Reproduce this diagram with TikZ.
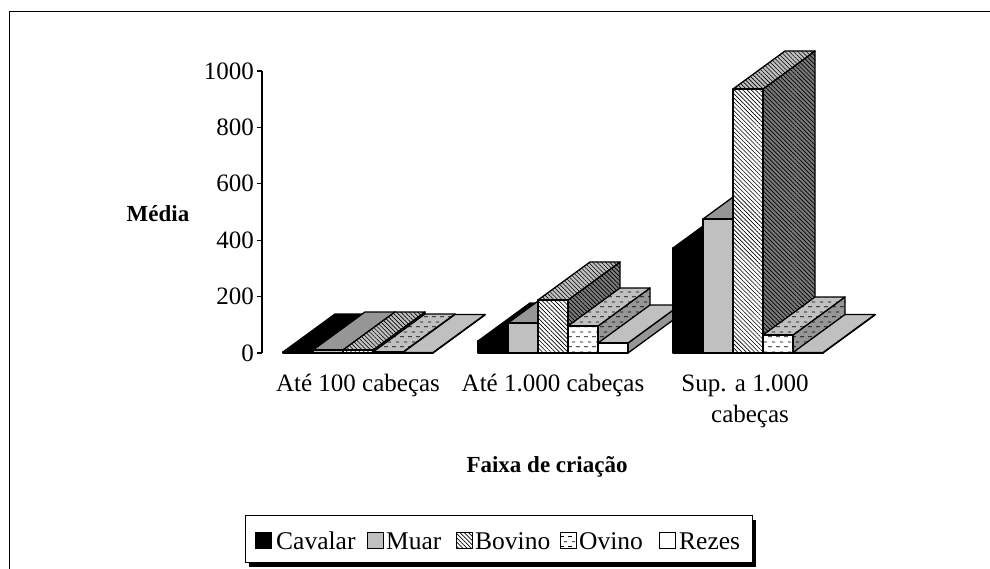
\documentclass[tikz,border=0pt]{standalone}
\usepackage{fontspec}
\setmainfont{Liberation Serif}
\usetikzlibrary{patterns,patterns.meta}
\tikzdeclarepattern{
  name=ovdash,
  type=uncolored,
  bounding box={(0pt,0pt) and (8pt,10pt)},
  tile size={(8pt,10pt)},
  code={
    \draw[line width=0.8pt] (0.2pt,2.5pt) -- (4.2pt,2.5pt);
    \draw[line width=0.8pt] (4.2pt,7.5pt) -- (7.8pt,7.5pt);
  }
}
\definecolor{lgray}{HTML}{C0C0C0}
\definecolor{mgray}{HTML}{969696}
\definecolor{dgray}{HTML}{7A7A7A}
\tikzset{
  face/.style={draw=black, line width=1.3pt, line join=round},
  cavF/.style={face, fill=black},
  muaF/.style={face, fill=lgray},
  muaT/.style={face, fill=mgray},
  muaS/.style={face, fill=dgray},
  bovF/.style={face, preaction={fill=white}, pattern={Lines[angle=-45,distance=3pt,line width=0.6pt]}, pattern color=black},
  bovT/.style={face, preaction={fill=lgray}, pattern={Lines[angle=-45,distance=3pt,line width=0.6pt]}, pattern color=black},
  bovS/.style={face, preaction={fill=dgray}, pattern={Lines[angle=-45,distance=3pt,line width=0.7pt]}, pattern color=black},
  ovF/.style={face, preaction={fill=white}, pattern=ovdash, pattern color=black},
  ovT/.style={face, preaction={fill=lgray}, pattern=ovdash, pattern color=black},
  ovS/.style={face, preaction={fill=mgray}, pattern=ovdash, pattern color=black},
  rezF/.style={face, fill=white},
  rezT/.style={face, fill=lgray},
  rezS/.style={face, fill=mgray},
  lab/.style={font=\fontsize{25}{30}\selectfont, inner sep=0pt},
  leglab/.style={font=\fontsize{25.5}{30}\selectfont, inner sep=0pt, anchor=base west},
  blab/.style={font=\fontsize{23}{28}\selectfont\bfseries, inner sep=0pt},
  legsq/.style={draw=black, line width=1pt, minimum size=16pt, inner sep=0pt, anchor=west},
}
% #1 x left, #2 height (px), #3 front, #4 top, #5 side
\newcommand\drawbar[5]{%
  \pgfmathsetmacro\bxa{#1}%
  \pgfmathsetmacro\bxb{#1+30}%
  \pgfmathsetmacro\bxc{#1+30+52}%
  \pgfmathsetmacro\bxd{#1+52}%
  \pgfmathsetmacro\byt{353-#2}%
  \pgfmathsetmacro\byb{353-#2-38}%
  \path[#5] (\bxb,353) -- (\bxc,315) -- (\bxc,\byb) -- (\bxb,\byt) -- cycle;
  \path[#4] (\bxa,\byt) -- (\bxb,\byt) -- (\bxc,\byb) -- (\bxd,\byb) -- cycle;
  \path[#3] (\bxa,353) rectangle (\bxb,\byt);
}
\begin{document}
\begin{tikzpicture}[x=1pt,y=-1pt]
\useasboundingbox (0,0) rectangle (990,569);
\fill[white] (0,0) rectangle (990,569);
% frame
\draw[line width=1.4pt] (9.5,572) -- (9.5,11.5) -- (995,11.5);
% axis
\draw[line width=1.2pt] (262,71) -- (262,353);
\foreach \v/\yy in {0/353,200/296.6,400/240.2,600/183.8,800/127.4,1000/71}{
  \draw[line width=1.2pt] (257,\yy) -- (262,\yy);
  \node[lab, anchor=east] (t\v) at (254,\yy) {\v};
}
\node[blab, anchor=base] (ylab) at (158,222) {Média};
% group 1
\drawbar{283}{1}{cavF}{cavF}{cavF}
\drawbar{313}{3}{muaF}{muaT}{muaS}
\drawbar{343}{3}{bovF}{bovT}{bovS}
\drawbar{373}{1}{ovF}{ovT}{ovS}
\drawbar{403}{0.5}{rezF}{rezT}{rezS}
% group 2
\drawbar{478}{12}{cavF}{cavF}{cavF}
\drawbar{508}{30}{muaF}{muaT}{muaS}
\drawbar{538}{53}{bovF}{bovT}{bovS}
\drawbar{568}{27}{ovF}{ovT}{ovS}
\drawbar{598}{10}{rezF}{rezT}{rezS}
% group 3
\drawbar{673}{105}{cavF}{cavF}{cavF}
\drawbar{703}{134}{muaF}{muaT}{muaS}
\drawbar{733}{264}{bovF}{bovT}{bovS}
\drawbar{763}{18}{ovF}{ovT}{ovS}
\drawbar{793}{0.5}{rezF}{rezT}{rezS}
% category labels
\node[lab, anchor=base] (c1) at (358,391) {Até 100 cabeças};
\node[lab, anchor=base] (c2) at (553,391) {Até 1.000 cabeças};
\node[lab, anchor=base] (c3a) at (745,391) {Sup. a 1.000};
\node[lab, anchor=base] (c3b) at (750,422) {cabeças};
\node[blab, anchor=base] (xlab) at (547,472) {Faixa de criação};
% legend
\fill[black] (249,520) rectangle (756,567);
\draw[line width=1pt, fill=white] (245,515.5) rectangle (752,562);
\node[legsq, fill=black] (s1) at (255,540) {};
\node[leglab] (l1) at (276,549) {Cavalar};
\node[legsq, fill=lgray] (s2) at (367,540) {};
\node[leglab] (l2) at (386,549) {Muar};
\node[legsq, bovF, line width=1pt] (s3) at (456,540) {};
\node[leglab] (l3) at (475,549) {Bovino};
\node[legsq, ovF, line width=1pt] (s4) at (560,540) {};
\node[leglab] (l4) at (579,549) {Ovino};
\node[legsq, fill=white] (s5) at (659,540) {};
\node[leglab] (l5) at (679,549) {Rezes};
\end{tikzpicture}
\end{document}
